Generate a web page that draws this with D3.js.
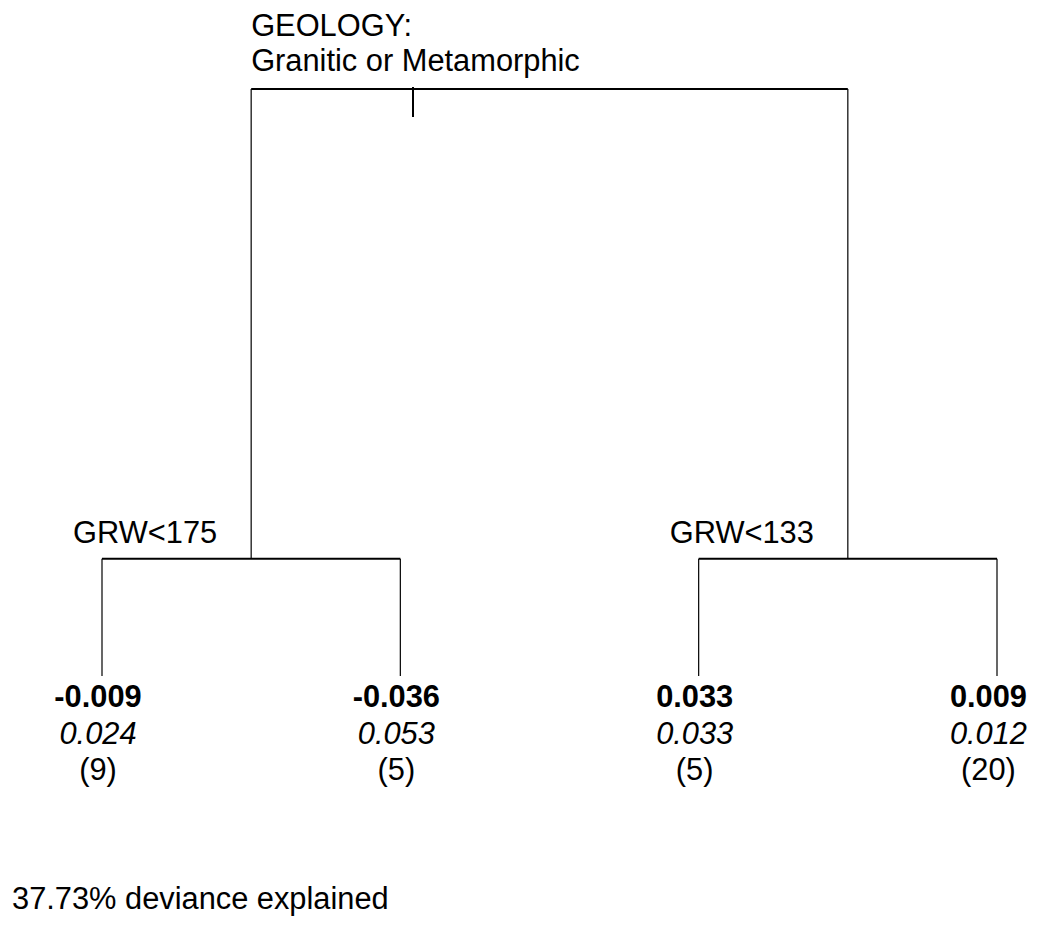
<!DOCTYPE html>
<html>
<head>
<meta charset="utf-8">
<script src="https://cdn.jsdelivr.net/npm/d3@7"></script>
<style>
  html, body { margin: 0; padding: 0; background: #fff; }
  svg { display: block; }
  text { font-family: "Liberation Sans", Arial, sans-serif; fill: #000; }
</style>
</head>
<body>
<svg id="chart" width="1038" height="931"></svg>
<script>
// ---- data ----
const rootSplitVar = "GEOLOGY:";
const rootSplitValue = "Granitic or Metamorphic";
const childSplits = ["GRW<175", "GRW<133"];
const leafMeans = [-0.009, -0.036, 0.033, 0.009];
const leafSecond = [0.024, 0.053, 0.033, 0.012];
const leafCounts = [9, 5, 5, 20];
// relative deviance remaining at each level (root, second splits, leaves)
const levelDeviance = [1.0, 0.698, 0.6227];
const devianceExplained = 37.73;

// ---- build hierarchy ----
const treeData = {
  name: "root",
  children: childSplits.map((s, i) => ({
    name: s,
    children: [0, 1].map(j => {
      const k = i * 2 + j;
      return { name: "leaf" + k, mean: leafMeans[k], second: leafSecond[k], n: leafCounts[k] };
    })
  }))
};
const root = d3.hierarchy(treeData);
const leaves = root.leaves();

const svg = d3.select("#chart");
const fmt = d3.formatLocale({ decimal: ".", thousands: ",", grouping: [3], currency: ["", ""], minus: "-" }).format(".3f");
const FS = 30.8;

const x = d3.scalePoint().domain(leaves.map(d => d.data.name)).range([102, 997]).padding(0);
const y = d3.scaleLinear().domain([levelDeviance[0], levelDeviance[2]]).range([89, 676]);

root.eachAfter(d => {
  d.x = d.children ? d3.mean(d.children, c => c.x) : x(d.data.name);
  d.y = y(levelDeviance[d.depth]);
});

const g = svg.append("g");

// horizontal bars and stems
root.descendants().filter(d => d.children).forEach(d => {
  const xs = d.children.map(c => c.x);
  g.append("line")
    .attr("x1", d3.min(xs)).attr("x2", d3.max(xs))
    .attr("y1", d.y).attr("y2", d.y)
    .attr("stroke", "#000").attr("stroke-width", 2);
  d.children.forEach(c => {
    g.append("line")
      .attr("x1", c.x).attr("x2", c.x)
      .attr("y1", d.y).attr("y2", c.y)
      .attr("stroke", "#000").attr("stroke-width", 1.2);
  });
});

// root label
const rootX = root.children[0].x;
const rl = g.append("text").attr("font-size", FS);
rl.append("tspan").attr("x", rootX).attr("y", 36).text(rootSplitVar);
rl.append("tspan").attr("x", rootX).attr("y", 71).text(rootSplitValue);
const bb = rl.node().getBBox();
const tickX = Math.round(bb.x + bb.width / 2) - 2;
g.append("line")
  .attr("x1", tickX).attr("x2", tickX)
  .attr("y1", root.y - 2).attr("y2", root.y + 28)
  .attr("stroke", "#000").attr("stroke-width", 2);

// child split labels
root.children.forEach(d => {
  g.append("text")
    .attr("x", d.x - 34).attr("y", d.y - 16)
    .attr("text-anchor", "end").attr("font-size", FS)
    .text(d.data.name);
});

// leaf labels
const rightLimit = 1027;
leaves.forEach(d => {
  const grp = g.append("g");
  grp.append("text").attr("x", 0).attr("y", d.y + 31)
    .attr("text-anchor", "middle").attr("font-size", FS).attr("font-weight", "bold")
    .text(fmt(d.data.mean));
  grp.append("text").attr("x", 0).attr("y", d.y + 68)
    .attr("text-anchor", "middle").attr("font-size", FS).attr("font-style", "italic")
    .text(fmt(d.data.second));
  grp.append("text").attr("x", 0).attr("y", d.y + 104)
    .attr("text-anchor", "middle").attr("font-size", FS)
    .text("(" + d.data.n + ")");
  const w = grp.node().getBBox();
  let cx = d.x - 4;
  if (cx + w.width / 2 > rightLimit) cx = rightLimit - w.width / 2;
  grp.attr("transform", `translate(${cx},0)`);
});

// deviance explained
g.append("text").attr("x", 12).attr("y", 909).attr("font-size", FS)
  .text(devianceExplained.toFixed(2) + "% deviance explained");
</script>
</body>
</html>
